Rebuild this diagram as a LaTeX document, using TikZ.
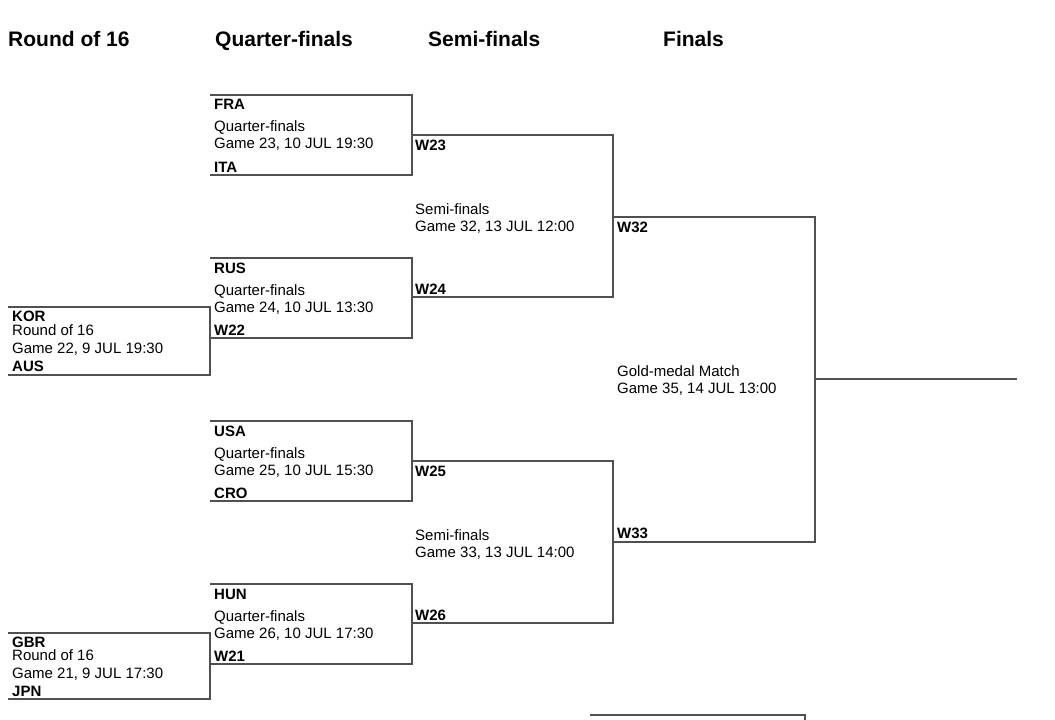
\documentclass[tikz,border=0pt]{standalone}
\usepackage{fontspec}
\setmainfont{Liberation Sans}
\usepackage{tikz}
\usetikzlibrary{positioning, calc}
\usepackage{xcolor}
\definecolor{linegray}{HTML}{505050}

\tikzset{
    roundhead/.style={anchor=base west, inner sep=0pt, font=\bfseries\fontsize{21}{24}\selectfont},
    team/.style={anchor=base west, inner sep=0pt, font=\bfseries\fontsize{15}{17}\selectfont},
    gameinfo/.style={anchor=base west, inner sep=0pt, align=left, font=\fontsize{15}{17}\selectfont},
    bracket/.style={draw=linegray, line width=1.1pt}
}

\begin{document}
\begin{tikzpicture}[x=1pt, y=-1pt]
    \useasboundingbox (0,0) rectangle (1055,720);

    % column heads
    \node[roundhead] (hR16) at (8,46) {Round of 16};
    \node[roundhead] (hQF) at (215,46) {Quarter-finals};
    \node[roundhead] (hSF) at (428,46) {Semi-finals};
    \node[roundhead] (hF) at (663,46) {Finals};

    % corners of each match
    \coordinate (r22a) at (8,307);   \coordinate (r22b) at (210,307);
    \coordinate (r22c) at (210,375); \coordinate (r22d) at (8,375);
    \coordinate (r21a) at (8,633);   \coordinate (r21b) at (210,633);
    \coordinate (r21c) at (210,699); \coordinate (r21d) at (8,699);

    \coordinate (q23a) at (210,95);  \coordinate (q23b) at (412,95);
    \coordinate (q23c) at (412,175); \coordinate (q23d) at (210,175);
    \coordinate (q24a) at (210,258); \coordinate (q24b) at (412,258);
    \coordinate (q24c) at (412,338); \coordinate (q24d) at (210,338);
    \coordinate (q25a) at (210,421); \coordinate (q25b) at (412,421);
    \coordinate (q25c) at (412,501); \coordinate (q25d) at (210,501);
    \coordinate (q26a) at (210,584); \coordinate (q26b) at (412,584);
    \coordinate (q26c) at (412,664); \coordinate (q26d) at (210,664);

    \coordinate (s32a) at (412,135); \coordinate (s32b) at (613,135);
    \coordinate (s32c) at (613,297); \coordinate (s32d) at (412,297);
    \coordinate (s33a) at (412,461); \coordinate (s33b) at (613,461);
    \coordinate (s33c) at (613,623); \coordinate (s33d) at (412,623);

    \coordinate (f35a) at (613,217); \coordinate (f35b) at (815,217);
    \coordinate (f35c) at (815,542); \coordinate (f35d) at (613,542);
    \coordinate (f35m) at (815,379); \coordinate (gold) at (1017,379);

    \coordinate (b34a) at (590,715); \coordinate (b34b) at (805,715);
    \coordinate (b34c) at (805,721);

    % brackets
    \foreach \m in {r22,r21,q23,q24,q25,q26,s32,s33,f35}
        \draw[bracket] (\m a) -- (\m b) -- (\m c) -- (\m d);
    \draw[bracket] (f35m) -- (gold);
    \draw[bracket] (b34a) -- (b34b) -- (b34c);

    % round of 16
    \node[team] (kor) at (12,321.5) {KOR};
    \node[gameinfo] (g22a) at (12,335) {Round of 16};
    \node[gameinfo] (g22b) at (12,353) {Game 22, 9 JUL 19:30};
    \node[team] (aus) at (12,371) {AUS};

    \node[team] (gbr) at (12,647.5) {GBR};
    \node[gameinfo] (g21a) at (12,660.5) {Round of 16};
    \node[gameinfo] (g21b) at (12,678) {Game 21, 9 JUL 17:30};
    \node[team] (jpn) at (12,696) {JPN};

    % quarter-finals
    \node[team] (fra) at (214,109) {FRA};
    \node[gameinfo] (g23a) at (214,131) {Quarter-finals};
    \node[gameinfo] (g23b) at (214,148) {Game 23, 10 JUL 19:30};
    \node[team] (ita) at (214,172) {ITA};

    \node[team] (rus) at (214,273) {RUS};
    \node[gameinfo] (g24a) at (214,295) {Quarter-finals};
    \node[gameinfo] (g24b) at (214,312) {Game 24, 10 JUL 13:30};
    \node[team] (w22) at (214,335) {W22};

    \node[team] (usa) at (214,436) {USA};
    \node[gameinfo] (g25a) at (214,458) {Quarter-finals};
    \node[gameinfo] (g25b) at (214,475) {Game 25, 10 JUL 15:30};
    \node[team] (cro) at (214,498) {CRO};

    \node[team] (hun) at (214,599) {HUN};
    \node[gameinfo] (g26a) at (214,621) {Quarter-finals};
    \node[gameinfo] (g26b) at (214,638) {Game 26, 10 JUL 17:30};
    \node[team] (w21) at (214,661) {W21};

    % semi-finals
    \node[team] (w23) at (415,150) {W23};
    \node[gameinfo] (g32a) at (415,214) {Semi-finals};
    \node[gameinfo] (g32b) at (415,231) {Game 32, 13 JUL 12:00};
    \node[team] (w24) at (415,294) {W24};

    \node[team] (w25) at (415,476) {W25};
    \node[gameinfo] (g33a) at (415,540) {Semi-finals};
    \node[gameinfo] (g33b) at (415,557) {Game 33, 13 JUL 14:00};
    \node[team] (w26) at (415,620) {W26};

    % final
    \node[team] (w32) at (617,232) {W32};
    \node[gameinfo] (g35a) at (617,376) {Gold-medal Match};
    \node[gameinfo] (g35b) at (617,393) {Game 35, 14 JUL 13:00};
    \node[team] (w33) at (617,538) {W33};
\end{tikzpicture}
\end{document}
